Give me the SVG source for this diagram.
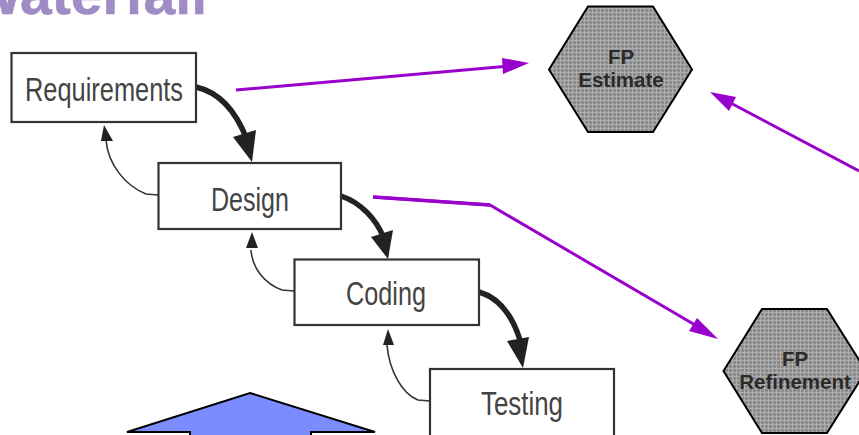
<svg xmlns="http://www.w3.org/2000/svg" width="859" height="435" viewBox="0 0 859 435">
<style>
.box{fill:#fff;stroke:#333;stroke-width:2.200}
.lbl{font-family:"Liberation Sans",Arial,sans-serif;font-size:33px;fill:#444;text-anchor:middle}
.hex{fill:url(#dots);stroke:#000;stroke-width:2}
.hl{font-family:"Liberation Sans",Arial,sans-serif;font-size:20.500px;font-weight:bold;fill:#2a2a2a;text-anchor:middle}
.fwd{fill:none;stroke:#222;stroke-width:5.500}
.back{fill:none;stroke:#333;stroke-width:1.600}
.ah{fill:#222}
.pur{fill:none;stroke:#9900cc;stroke-width:3}
.ph{fill:#9900cc}
</style>
<defs>
<pattern id="dots" width="4" height="4" patternUnits="userSpaceOnUse">
<rect width="4" height="4" fill="#8e8e8e"/>
<rect width="4" height="1" fill="#adadad"/>
<rect width="1" height="4" fill="#adadad"/>
<rect x="2" y="2" width="1" height="1" fill="#7a7a7a"/>
</pattern>
</defs>
<rect width="859" height="435" fill="#fff"/>
<text id="title" x="207" y="14" font-family="'Liberation Sans',Arial,sans-serif" font-size="57" font-weight="bold" fill="#a08cc4" stroke="#a08cc4" stroke-width="0.600" text-anchor="end">Waterfall</text>
<g id="connectors">
<path class="fwd" d="M196 87C222 93 238 116 247 140"/>
<polygon class="ah" points="233,137 256,130 252,162"/>
<path class="fwd" d="M341 196C362 203 376 220 383 236"/>
<polygon class="ah" points="371,237 393,230 388,259"/>
<path class="fwd" d="M479 292C500 298 513 318 520 340"/>
<polygon class="ah" points="507,341 529,337 523,368"/>
<path class="back" d="M158 195L146 194C126 186 108 165 106 140"/>
<polygon class="ah" points="104,125 113,141 101,141"/>
<path class="back" d="M294 291L282 290C265 284 252 268 251 250"/>
<polygon class="ah" points="252,232 258,248 246,248"/>
<path class="back" d="M430 401L418 400C402 394 389 370 387 345"/>
<polygon class="ah" points="388,329 394,345 383,345"/>
<path class="pur" d="M236 90L510 66"/>
<polygon class="ph" points="529,63 503,74 502,58"/>
<path class="pur" d="M859 171L725 100"/>
<polygon class="ph" points="710,92 736,97 729,111"/>
<path class="pur" d="M373 197L490 205L702 329"/>
<path class="pur" d="M373 197L490 205" style="stroke-width:3.500"/>
<polygon class="ph" points="718,339 689,331 697,318"/>
</g>
<g id="requirements"><rect class="box" x="11.500" y="53" width="184.500" height="69"/><text class="lbl" x="104" y="101" textLength="158" lengthAdjust="spacingAndGlyphs">Requirements</text></g>
<g id="design"><rect class="box" x="158.500" y="163" width="182.500" height="66"/><text class="lbl" x="250" y="211" textLength="78" lengthAdjust="spacingAndGlyphs">Design</text></g>
<g id="coding"><rect class="box" x="294.500" y="259.500" width="184.500" height="65.500"/><text class="lbl" x="386" y="305" textLength="80" lengthAdjust="spacingAndGlyphs">Coding</text></g>
<g id="testing"><rect class="box" x="430" y="369" width="184" height="68"/><text class="lbl" x="522" y="415" textLength="82" lengthAdjust="spacingAndGlyphs">Testing</text></g>
<g id="fp-estimate"><polygon class="hex" points="549,69.500 588,6.500 653,6.500 692,69.500 653,132 588,132"/><text class="hl" x="621" y="64">FP</text><text class="hl" x="621" y="87">Estimate</text></g>
<g id="fp-refinement"><polygon class="hex" points="723.500,371 762,309 827,309 866,371 827,433 762,433"/><text class="hl" x="795" y="366">FP</text><text class="hl" x="795" y="389">Refinement</text></g>
<g id="blue-arrow"><polygon points="250,393 375,432 311,432 311,440 190,440 190,432 127,432" fill="#7a8cff" stroke="#000" stroke-width="2"/></g>
</svg>
